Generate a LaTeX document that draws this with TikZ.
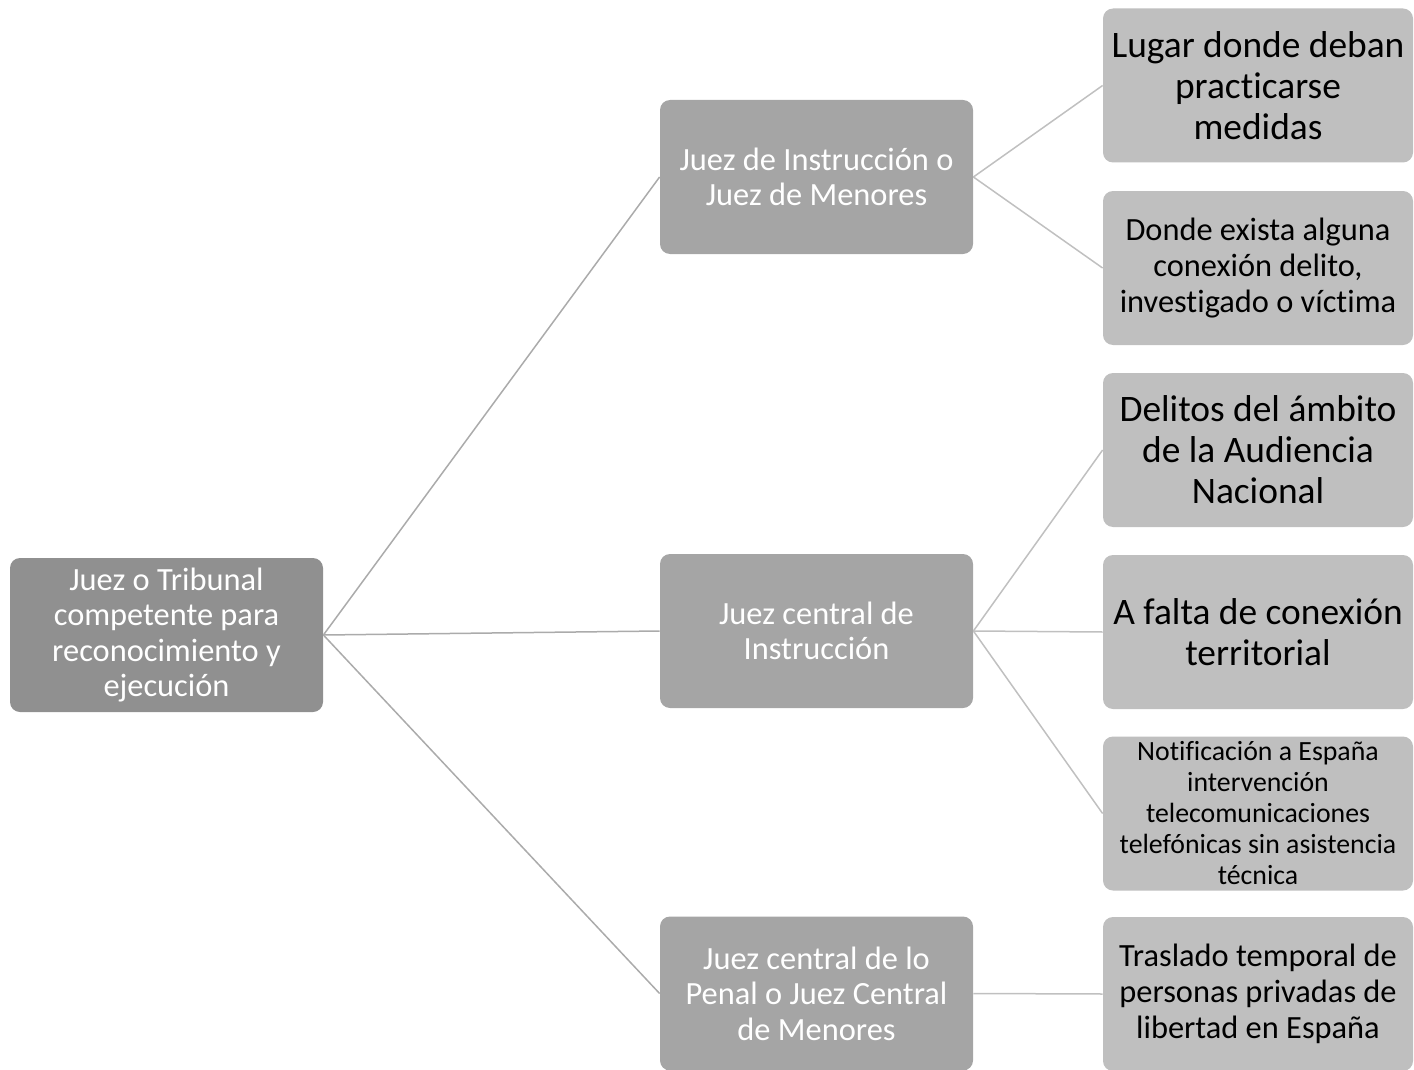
\documentclass[tikz,border=0pt]{standalone}
\usepackage{fontspec}
\setmainfont{Carlito}[Ligatures=NoCommon]
\begin{document}
\begin{tikzpicture}[x=0.5pt,y=-0.5pt,
  box/.style={rectangle, rounded corners=5pt, inner sep=0pt, align=center},
  rootbox/.style={box, fill=rootgray, text=white, minimum width=156.5pt, minimum height=77pt, font=\fontsize{16.2}{17.6}\selectfont},
  midbox/.style={box, fill=midgray, text=white, minimum width=156.5pt, minimum height=77pt, font=\fontsize{16.2}{17.8}\selectfont},
  leafbox/.style={box, fill=leafgray, text=black, minimum width=155pt, minimum height=77pt},
  big/.style={font=\fontsize{18.7}{20.5}\selectfont},
  mid/.style={font=\fontsize{16.2}{18}\selectfont},
  small/.style={font=\fontsize{13.9}{15.5}\selectfont},
  link/.style={draw=linegray, line width=0.75pt},
  rootlink/.style={draw=rootlinegray, line width=0.75pt}]
\definecolor{rootgray}{HTML}{909090}
\definecolor{midgray}{HTML}{A5A5A5}
\definecolor{leafgray}{HTML}{BFBFBF}
\definecolor{linegray}{HTML}{C0C0C0}
\definecolor{rootlinegray}{HTML}{ABABAB}
\useasboundingbox (0,0) rectangle (1414,1070);
\node[rootbox] (root) at (166.5,635) {Juez o Tribunal\\competente para\\reconocimiento y\\ejecución};
\node[midbox] (m1) at (816.5,177) {Juez de Instrucción o\\Juez de Menores};
\node[midbox] (m2) at (816.5,631) {Juez central de\\Instrucción};
\node[midbox] (m3) at (816.5,993.5) {Juez central de lo\\Penal o Juez Central\\de Menores};
\node[leafbox,big] (l1) at (1258,85.5) {Lugar donde deban\\practicarse\\medidas};
\node[leafbox,mid] (l2) at (1258,268) {Donde exista alguna\\conexión delito,\\investigado o víctima};
\node[leafbox,big] (l3) at (1258,450) {Delitos del ámbito\\de la Audiencia\\Nacional};
\node[leafbox,big] (l4) at (1258,632) {A falta de conexión\\territorial};
\node[leafbox,small] (l5) at (1258,813.5) {Notificación a España\\intervención\\telecomunicaciones\\telefónicas sin asistencia\\técnica};
\node[leafbox,mid] (l6) at (1258,994) {Traslado temporal de\\personas privadas de\\libertad en España};
\draw[rootlink] (root.east) -- (m1.west);
\draw[rootlink] (root.east) -- (m2.west);
\draw[rootlink] (root.east) -- (m3.west);
\draw[link] (m1.east) -- (l1.west);
\draw[link] (m1.east) -- (l2.west);
\draw[link] (m2.east) -- (l3.west);
\draw[link] (m2.east) -- (l4.west);
\draw[link] (m2.east) -- (l5.west);
\draw[link] (m3.east) -- (l6.west);
\end{tikzpicture}
\end{document}
